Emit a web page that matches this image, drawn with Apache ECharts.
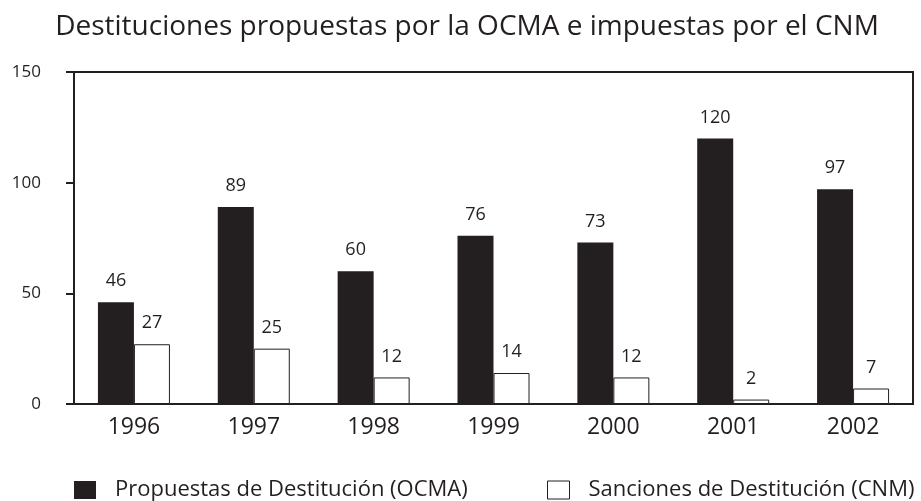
<!DOCTYPE html>
<html>
<head>
<meta charset="utf-8">
<script src="https://cdn.jsdelivr.net/npm/echarts@6/dist/echarts.min.js"></script>
<style>
  html, body { margin: 0; padding: 0; background: #fff; }
  #chart { width: 921px; height: 501px; }
</style>
</head>
<body>
<div id="chart"></div>
<script>
// datos
const years = ['1996', '1997', '1998', '1999', '2000', '2001', '2002'];
const propuestasOCMA = [46, 89, 60, 76, 73, 120, 97];
const sancionesCNM = [27, 25, 12, 14, 12, 2, 7];
const yTicks = [0, 50, 100, 150];

const ink = '#231f20';
const font = 'Open Sans';

const myChart = echarts.init(document.getElementById('chart'));

const legendBase = {
  top: 479,
  padding: 0,
  icon: 'rect',
  itemWidth: 22,
  itemHeight: 18,
  itemGap: 0,
  textStyle: { color: ink, fontFamily: font, fontSize: 22, padding: [0, 0, 0, 14] }
};

const option = {
  backgroundColor: '#fff',
  animation: false,
  title: {
    text: 'Destituciones propuestas por la OCMA e impuestas por el CNM',
    left: 462,
    textAlign: 'center',
    top: 8,
    textStyle: { color: ink, fontFamily: font, fontSize: 28, fontWeight: 'normal' }
  },
  legend: [
    Object.assign({}, legendBase, {
      data: ['Propuestas de Destitución (OCMA)'],
      left: 74
    }),
    Object.assign({}, legendBase, {
      data: ['Sanciones de Destitución (CNM)'],
      left: 547,
      itemStyle: { color: '#fff', borderColor: ink, borderWidth: 1 }
    })
  ],
  grid: {
    left: 74,
    right: 8,
    top: 72,
    bottom: 97,
    show: true,
    borderColor: ink,
    borderWidth: 2,
    backgroundColor: 'transparent'
  },
  xAxis: {
    type: 'category',
    data: years,
    axisLine: { show: true, lineStyle: { color: ink, width: 2 } },
    axisTick: { show: false },
    axisLabel: { color: ink, fontFamily: font, fontSize: 23, margin: 12 }
  },
  yAxis: {
    type: 'value',
    min: yTicks[0],
    max: yTicks[yTicks.length - 1],
    interval: 50,
    splitLine: { show: false },
    axisLine: { show: true, lineStyle: { color: ink, width: 2 } },
    axisTick: { show: true, length: 8, lineStyle: { color: ink, width: 2 } },
    axisLabel: { color: ink, fontFamily: font, fontSize: 17, margin: 33, padding: [8, 0, 0, 0] }
  },
  series: [
    {
      name: 'Propuestas de Destitución (OCMA)',
      type: 'bar',
      data: propuestasOCMA,
      barWidth: 36,
      barGap: '0%',
      itemStyle: { color: ink },
      label: {
        show: true,
        position: 'top',
        distance: 12,
        color: ink,
        fontFamily: font,
        fontSize: 18
      }
    },
    {
      name: 'Sanciones de Destitución (CNM)',
      type: 'bar',
      data: sancionesCNM,
      barWidth: 36,
      barGap: '0%',
      itemStyle: { color: '#fff', borderColor: ink, borderWidth: 1 },
      label: {
        show: true,
        position: 'top',
        distance: 12,
        color: ink,
        fontFamily: font,
        fontSize: 18
      }
    }
  ]
};

myChart.setOption(option);
</script>
</body>
</html>
